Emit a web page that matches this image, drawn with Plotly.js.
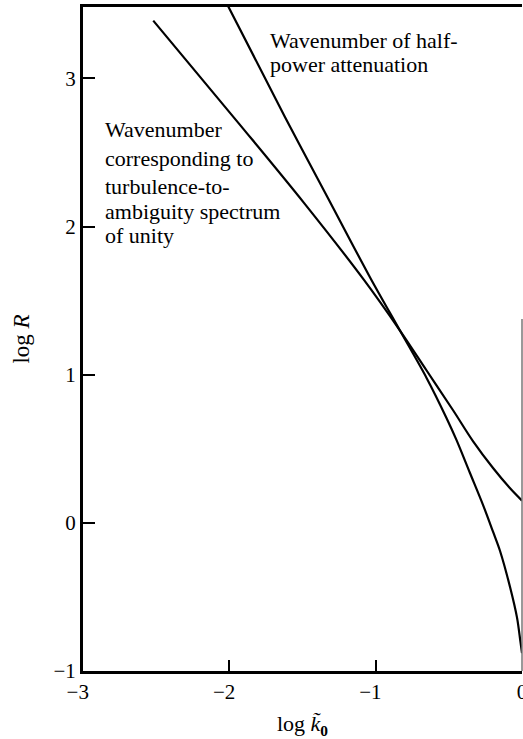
<!DOCTYPE html>
<html>
<head>
<meta charset="utf-8">
<script src="https://cdn.plot.ly/plotly-3.0.1.min.js"></script>
<style>html,body{margin:0;padding:0;background:#fff;}#chart{width:523px;height:739px;}</style>
</head>
<body>
<div id="chart"></div>
<script>
// Curve: wavenumber corresponding to turbulence-to-ambiguity spectrum of unity
const logK_unity = [-2.52, -1.93, -1.49, -1.08, -0.835, -0.653, -0.471, -0.334, -0.198, -0.083, 0];
const logR_unity = [3.39, 2.69, 2.16, 1.64, 1.30, 1.03, 0.76, 0.55, 0.37, 0.235, 0.15];
// Curve: wavenumber of half-power attenuation
const logK_half = [-2.02, -1.62, -1.33, -1.04, -0.835, -0.653, -0.517, -0.448, -0.357, -0.266, -0.198, -0.15, -0.08, -0.034, -0.011, 0];
const logR_half = [3.51, 2.74, 2.20, 1.66, 1.30, 0.98, 0.71, 0.56, 0.34, 0.12, -0.06, -0.19, -0.44, -0.64, -0.80, -0.88];

const xTickVals = [-3, -2, -1, 0];
const xTickText = ['\u22123\u2002', '\u22122\u2002', '\u22121\u2002', '0'];
const yTickVals = [-1, 0, 1, 2, 3];
const yTickText = ['\u22121', '0', '1', '2', '3'];

const labelHalf = ['Wavenumber of half-', 'power attenuation'];
const labelUnity = ['Wavenumber', 'corresponding to', 'turbulence-to-', 'ambiguity spectrum', 'of unity'];

const FONT = 'Liberation Serif, Times New Roman, serif';

const traces = [
  {x: logK_unity, y: logR_unity, mode: 'lines', line: {color: '#000', width: 2.2, shape: 'spline', smoothing: 1}, hoverinfo: 'skip'},
  {x: logK_half, y: logR_half, mode: 'lines', line: {color: '#000', width: 2.2, shape: 'spline', smoothing: 0.9}, hoverinfo: 'skip'}
];

const annotations = [];
const halfY = [3.259, 3.091];
labelHalf.forEach((t, i) => annotations.push({
  text: t, x: -1.735, y: halfY[i], xref: 'x', yref: 'y', xanchor: 'left', yanchor: 'middle',
  showarrow: false, font: {family: FONT, size: 22, color: '#000'}
}));
const unityY = [2.658, 2.462, 2.273, 2.104, 1.942];
labelUnity.forEach((t, i) => annotations.push({
  text: t, x: -2.86, y: unityY[i], xref: 'x', yref: 'y', xanchor: 'left', yanchor: 'middle',
  showarrow: false, font: {family: FONT, size: 22, color: '#000'}
}));

const layout = {
  width: 523, height: 739,
  margin: {l: 83, r: 1, t: 7, b: 68},
  paper_bgcolor: '#fff', plot_bgcolor: '#fff',
  showlegend: false,
  font: {family: FONT, color: '#000', size: 21},
  xaxis: {
    range: [-3, 0], tickmode: 'array', tickvals: xTickVals, ticktext: xTickText,
    ticks: 'inside', ticklen: 11, tickwidth: 2, tickcolor: '#000',
    ticklabeloverflow: 'allow',
    showline: true, linecolor: '#000', linewidth: 3, mirror: true,
    showgrid: false, zeroline: false,
    tickfont: {family: FONT, size: 21, color: '#000'},
    title: {text: 'log <i>k\u0303</i><sub><b>0</b></sub>\u2003', font: {family: FONT, size: 22, color: '#000'}, standoff: 16}
  },
  yaxis: {
    range: [-1, 3.482], tickmode: 'array', tickvals: yTickVals, ticktext: yTickText,
    ticks: 'inside', ticklen: 12, tickwidth: 2, tickcolor: '#000',
    ticklabeloverflow: 'allow',
    showline: true, linecolor: '#000', linewidth: 3, mirror: false,
    showgrid: false, zeroline: false,
    tickfont: {family: FONT, size: 21, color: '#000'},
    title: {text: 'log <i>R</i>\u2002\u2009', font: {family: FONT, size: 23, color: '#000'}, standoff: 18}
  },
  shapes: [
    {type: 'line', xref: 'paper', yref: 'paper', x0: 1, x1: 1, y0: 0, y1: 0.53, line: {color: '#777', width: 1.5}}
  ],
  annotations: annotations
};

Plotly.newPlot('chart', traces, layout, {staticPlot: true, displayModeBar: false});
</script>
</body>
</html>
